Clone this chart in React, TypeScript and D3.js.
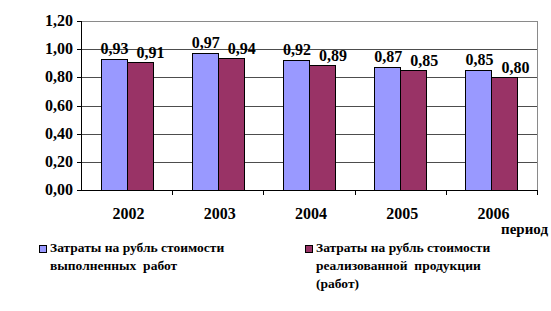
import React from "react";
import * as d3 from "d3";

const categories = ["2002", "2003", "2004", "2005", "2006"];
const seriesNames = [
  ["Затраты на рубль стоимости", "выполненных  работ"],
  ["Затраты на рубль стоимости", "реализованной  продукции", "(работ)"],
];
const series1 = [0.93, 0.97, 0.92, 0.87, 0.85];
const series2 = [0.91, 0.94, 0.89, 0.85, 0.8];
const labels1 = ["0,93", "0,97", "0,92", "0,87", "0,85"];
const labels2 = ["0,91", "0,94", "0,89", "0,85", "0,80"];
const yTicks = [0, 0.2, 0.4, 0.6, 0.8, 1.0, 1.2];
const colors = ["#9999FF", "#993366"];
const axisTitle = "период";

const W = 551;
const H = 311;
const plot = { left: 81, right: 537, top: 21, bottom: 190 };
const font = "Liberation Serif";

export default function App() {
  const x = d3
    .scaleBand<string>()
    .domain(categories)
    .range([plot.left, plot.right])
    .padding(0);
  const y = d3.scaleLinear().domain([0, 1.2]).range([plot.bottom, plot.top]);
  const groupW = x.bandwidth() * 0.57;
  const inner = d3
    .scaleBand<number>()
    .domain([0, 1])
    .range([0, groupW])
    .padding(0);
  const data = [series1, series2];
  const labs = [labels1, labels2];
  const fmt = (v: number) => d3.format(".2f")(v).replace(".", ",");

  return (
    <svg
      width={W}
      height={H}
      style={{ position: "absolute", left: 0, top: 0, background: "#fff" }}
    >
      {/* gridlines */}
      {yTicks.slice(1, -1).map((t) => (
        <line
          key={"g" + t}
          x1={plot.left}
          x2={plot.right}
          y1={Math.round(y(t)) + 0.5}
          y2={Math.round(y(t)) + 0.5}
          stroke="#4d4d4d"
          strokeWidth={1.2}
        />
      ))}
      {/* plot border top/right */}
      <line x1={plot.left} x2={plot.right} y1={plot.top + 0.5} y2={plot.top + 0.5} stroke="#8a8a8a" />
      <line x1={plot.right + 0.5} x2={plot.right + 0.5} y1={plot.top} y2={plot.bottom} stroke="#8a8a8a" />
      {/* bars */}
      {data.map((s, si) =>
        s.map((v, i) => {
          const bx = x(categories[i])! + (x.bandwidth() - groupW) / 2 + inner(si)!;
          return (
            <rect
              key={`b${si}-${i}`}
              x={Math.round(bx) + 0.5}
              y={Math.round(y(v)) + 0.5}
              width={Math.round(inner.bandwidth())}
              height={Math.round(y(0) - y(v))}
              fill={colors[si]}
              stroke="#000"
              strokeWidth={1}
            />
          );
        })
      )}
      {/* value labels */}
      {data.map((s, si) =>
        s.map((v, i) => {
          const bx = x(categories[i])! + (x.bandwidth() - groupW) / 2 + inner(si)! + inner.bandwidth() / 2;
          return (
            <text
              key={`l${si}-${i}`}
              x={bx + (si === 0 ? 1 : 11)}
              y={y(v) - (si === 0 ? 5 : 4)}
              textAnchor="middle"
              fontSize={16}
              fontFamily={font}
              fontWeight="bold"
              fill="#000"
            >
              {labs[si][i]}
            </text>
          );
        })
      )}
      {/* y axis */}
      <line x1={plot.left + 0.5} x2={plot.left + 0.5} y1={plot.top} y2={plot.bottom + 1} stroke="#000" />
      {yTicks.map((t) => (
        <g key={"y" + t}>
          <line
            x1={plot.left - 4}
            x2={plot.left}
            y1={Math.round(y(t)) + 0.5}
            y2={Math.round(y(t)) + 0.5}
            stroke="#000"
          />
          <text
            x={plot.left - 8}
            y={y(t) + 5}
            textAnchor="end"
            fontSize={16}
            fontFamily={font}
            fontWeight="bold"
            fill="#000"
          >
            {fmt(t)}
          </text>
        </g>
      ))}
      {/* x axis */}
      <line x1={plot.left} x2={plot.right + 1} y1={plot.bottom + 0.5} y2={plot.bottom + 0.5} stroke="#000" />
      {categories.map((c) => (
        <g key={"x" + c}>
          <line
            x1={Math.round(x(c)! + x.bandwidth()) + 0.5}
            x2={Math.round(x(c)! + x.bandwidth()) + 0.5}
            y1={plot.bottom}
            y2={plot.bottom + 5}
            stroke="#000"
          />
          <text
            x={x(c)! + x.bandwidth() / 2 + 2}
            y={219}
            textAnchor="middle"
            fontSize={16}
            fontFamily={font}
            fontWeight="bold"
            fill="#000"
          >
            {c}
          </text>
        </g>
      ))}
      <text x={548} y={234} textAnchor="end" fontSize={15} fontFamily={font} fontWeight="bold" fill="#000">
        {axisTitle}
      </text>
      {/* legend */}
      {seriesNames.map((lines, si) => {
        const lx = si === 0 ? 39 : 305;
        return (
          <g key={"leg" + si}>
            <rect x={lx + 0.5} y={245.5} width={7} height={7} fill={colors[si]} stroke="#000" />
            {lines.map((ln, li) => (
              <text
                key={li}
                x={lx + 11}
                y={252 + li * 18}
                fontSize={13.5}
                fontFamily={font}
                fontWeight="bold"
                fill="#000"
                style={{ whiteSpace: "pre" }}
              >
                {ln}
              </text>
            ))}
          </g>
        );
      })}
    </svg>
  );
}
